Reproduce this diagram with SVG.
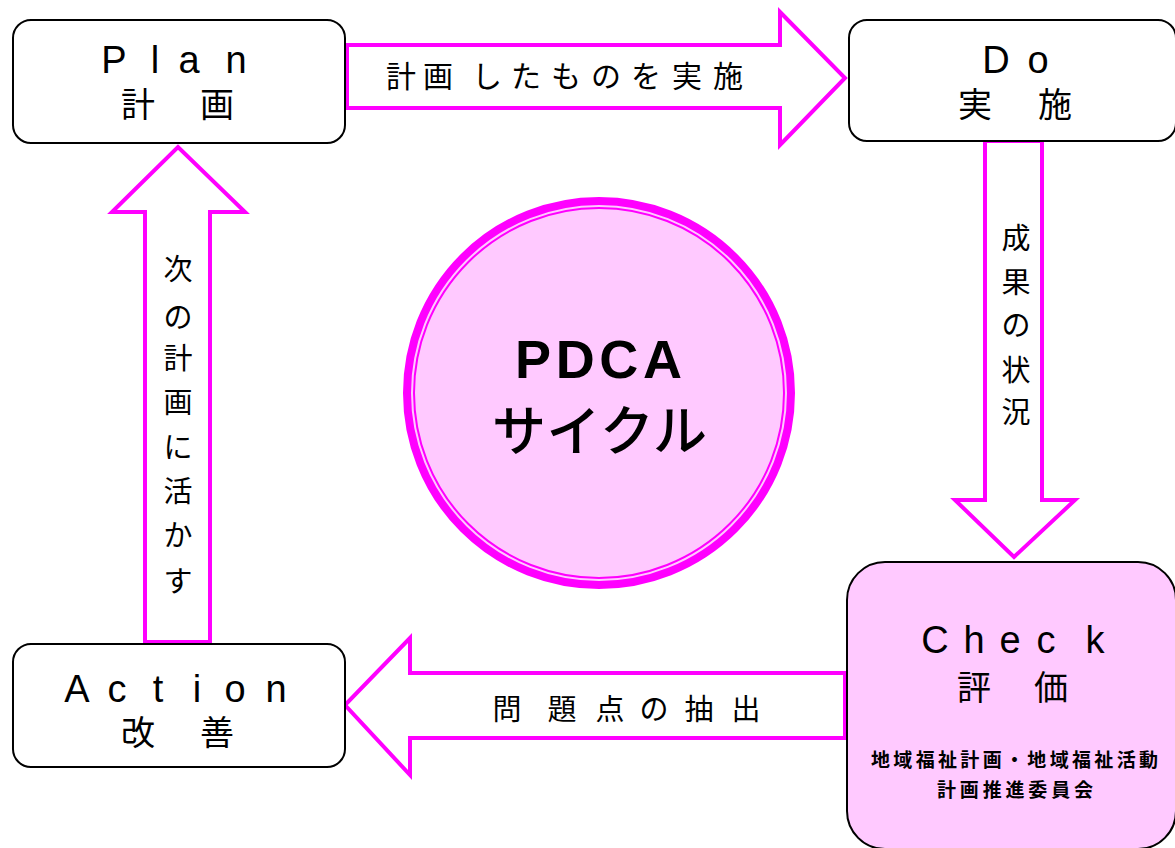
<svg xmlns="http://www.w3.org/2000/svg" width="1175" height="848" viewBox="0 0 1175 848">
<style>
.box{fill:#fff;stroke:#000;stroke-width:2}
.pbox{fill:#FFC9FF;stroke:#000;stroke-width:2}
.arr{fill:#fff;stroke:#FF00FF;stroke-width:4;stroke-linejoin:miter}
.lat{font-family:"Liberation Sans","Noto Sans CJK JP",sans-serif;font-size:38px;fill:#000;text-anchor:middle}
.jp{font-family:"Noto Sans CJK JP","Noto Sans CJK SC",sans-serif;fill:#000}
.big{font-size:34px;text-anchor:middle}
.lbl{font-size:29px;text-anchor:middle}
.org{font-size:19px;font-weight:bold}
</style>
<rect width="1175" height="848" fill="#fff"/>
<g id="connectors">
  <polygon class="arr" points="347,45 780,45 780,12 845,78 780,145 780,108 347,108"/>
  <polygon class="arr" points="985,141 1042,141 1042,500 1075,500 1014,557 955,500 985,500"/>
  <polygon class="arr" points="845,673 410,673 410,638 345,705 410,775 410,738 845,738"/>
  <polygon class="arr" points="145,642 145,212 112,212 178,147 245,212 210,212 210,642"/>
  <text class="jp" font-size="30" text-anchor="middle"><tspan x="401" y="87">計</tspan><tspan x="438" y="87">画</tspan><tspan x="487" y="87">し</tspan><tspan x="526" y="87">た</tspan><tspan x="566" y="87">も</tspan><tspan x="606" y="87">の</tspan><tspan x="646" y="87">を</tspan><tspan x="687" y="87">実</tspan><tspan x="728" y="87">施</tspan></text>
  <text class="jp lbl"><tspan x="1016" y="249">成</tspan><tspan x="1016" y="293">果</tspan><tspan x="1016" y="336">の</tspan><tspan x="1016" y="381">状</tspan><tspan x="1016" y="423">況</tspan></text>
  <text class="jp lbl"><tspan x="507" y="720">問</tspan><tspan x="562" y="720">題</tspan><tspan x="610" y="720">点</tspan><tspan x="654" y="720">の</tspan><tspan x="699" y="720">抽</tspan><tspan x="746" y="720">出</tspan></text>
  <text class="jp lbl"><tspan x="178" y="280">次</tspan><tspan x="178" y="328">の</tspan><tspan x="178" y="369">計</tspan><tspan x="178" y="413">画</tspan><tspan x="178" y="458">に</tspan><tspan x="178" y="502">活</tspan><tspan x="178" y="546">か</tspan><tspan x="178" y="592">す</tspan></text>
</g>
<g id="plan">
  <rect class="box" x="13" y="20" width="332" height="123" rx="18"/>
  <text class="lat"><tspan x="114" y="73">P</tspan><tspan x="155" y="73">l</tspan><tspan x="189" y="73">a</tspan><tspan x="236" y="73">n</tspan></text>
  <text class="jp big"><tspan x="138" y="117">計</tspan><tspan x="217" y="117">画</tspan></text>
</g>
<g id="do">
  <rect class="box" x="849" y="20" width="327" height="121" rx="18"/>
  <text class="lat"><tspan x="996" y="73">D</tspan><tspan x="1038" y="73">o</tspan></text>
  <text class="jp big"><tspan x="975" y="117">実</tspan><tspan x="1055" y="117">施</tspan></text>
</g>
<g id="action">
  <rect class="box" x="13" y="644" width="332" height="123" rx="18"/>
  <text class="lat"><tspan x="77" y="702">A</tspan><tspan x="117" y="702">c</tspan><tspan x="158" y="702">t</tspan><tspan x="197" y="702">i</tspan><tspan x="235" y="702">o</tspan><tspan x="276" y="702">n</tspan></text>
  <text class="jp big"><tspan x="138" y="745">改</tspan><tspan x="217" y="745">善</tspan></text>
</g>
<g id="check">
  <rect class="pbox" x="847" y="562" width="329" height="287" rx="38"/>
  <text class="lat"><tspan x="935" y="653">C</tspan><tspan x="974" y="653">h</tspan><tspan x="1010" y="653">e</tspan><tspan x="1046" y="653">c</tspan><tspan x="1095" y="653">k</tspan></text>
  <text class="jp big"><tspan x="974" y="700">評</tspan><tspan x="1051" y="700">価</tspan></text>
  <text class="jp org" x="871" y="767" textLength="287" lengthAdjust="spacing">地域福祉計画・地域福祉活動</text>
  <text class="jp org" x="937" y="797" textLength="156" lengthAdjust="spacing">計画推進委員会</text>
</g>
<g id="pdca">
  <circle cx="599" cy="393" r="192" fill="#FFC9FF" stroke="#FF00FF" stroke-width="8"/>
  <circle cx="599" cy="393" r="185" fill="none" stroke="#FF00FF" stroke-width="2"/>
  <text x="515" y="378" font-family="Liberation Sans, Arial, sans-serif" font-weight="bold" font-size="54" textLength="167" lengthAdjust="spacing" fill="#000">PDCA</text>
  <text class="jp" x="492" y="451" font-size="54" font-weight="500" textLength="215" lengthAdjust="spacing">サイクル</text>
</g>
</svg>
